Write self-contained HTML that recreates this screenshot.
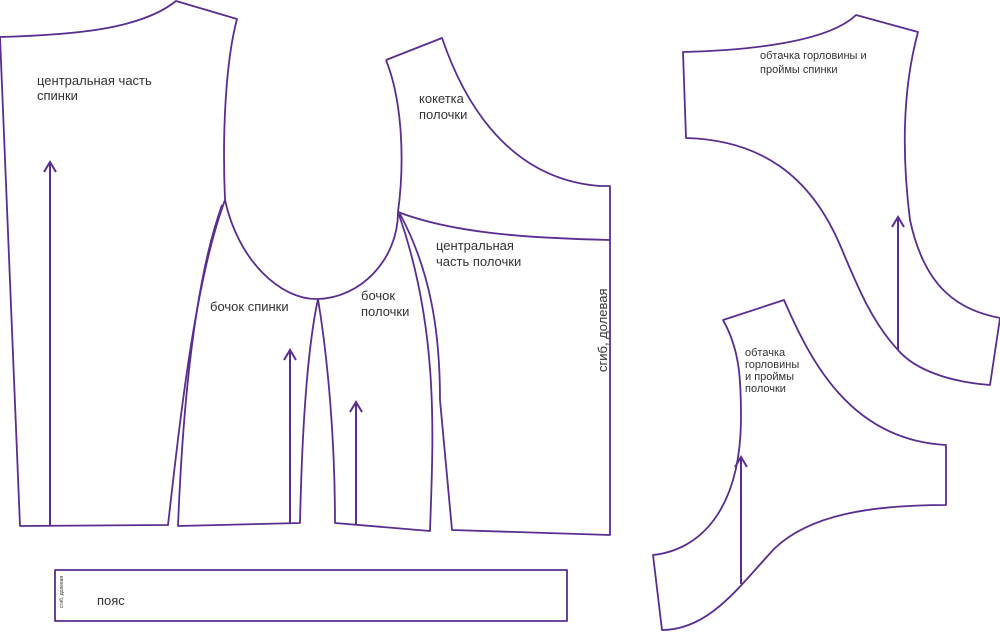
<!DOCTYPE html>
<html><head><meta charset="utf-8"><style>
html,body{margin:0;padding:0;background:#fff}
svg{display:block}
text{font-family:"Liberation Sans",sans-serif;fill:#333}
</style></head><body>
<svg width="1000" height="632" viewBox="0 0 1000 632" xmlns="http://www.w3.org/2000/svg">
<g fill="none" stroke="#5a2d91" stroke-width="1.8" stroke-linejoin="round">
<path d="M0,37 C70,35 140,30 176,1 L237,19 C226,60 222,130 225,200 C195,280 180,420 168,525 L20,526 L0,37 Z"/>
<path d="M225,200 C238,260 280,300 318,299 C360,298 398,260 398,212 C405,160 402,100 386,60"/>
<path d="M222,205 C195,280 183,400 178,526 L300,523 C302,430 307,350 318,299"/>
<path d="M318,299 C328,360 335,440 335,523 L430,531 C433,440 440,330 398,212"/>
<path d="M400,214 C430,270 440,330 440,400 L452,530 L610,535 L610,240 C520,238 450,232 398,212"/>
<path d="M386,60 L442,38 C470,120 520,180 600,186 L610,186 L610,240"/>
<rect x="55" y="570" width="512" height="51"/>
<path d="M683,52 C760,50 830,40 856,15 L918,32 C905,80 900,140 910,220 C925,290 960,310 1000,318 L990,385 C950,382 915,370 898,350 C870,320 855,280 840,245 C810,175 760,140 686,138 Z"/>
<path d="M723,320 L784,300 C810,360 850,440 946,445 L946,505 C870,505 810,515 775,548 C740,585 710,630 662,630 L653,555 C700,550 740,510 741,420 C741,380 740,350 723,320 Z"/>
</g>
<g stroke="#5a2d91" stroke-width="2" fill="none">
<line x1="50" y1="162" x2="50" y2="525"/><path d="M44,172 L50,162 L56,172"/>
<line x1="290" y1="350" x2="290" y2="523"/><path d="M284,360 L290,350 L296,360"/>
<line x1="356" y1="402" x2="356" y2="525"/><path d="M350,412 L356,402 L362,412"/>
<line x1="898" y1="217" x2="898" y2="350"/><path d="M892,227 L898,217 L904,227"/>
<line x1="741" y1="457" x2="741" y2="584"/><path d="M735,467 L741,457 L747,467"/>
</g>
<g font-size="13">
<text x="37" y="85">центральная часть</text>
<text x="37" y="100">спинки</text>
<text x="419" y="103">кокетка</text>
<text x="419" y="119">полочки</text>
<text x="436" y="250">центральная</text>
<text x="436" y="266">часть полочки</text>
<text x="210" y="311">бочок спинки</text>
<text x="361" y="300">бочок</text>
<text x="361" y="316">полочки</text>
<text x="97" y="605">пояс</text>
<text transform="translate(607,372) rotate(-90)">сгиб, долевая</text>
</g>
<g font-size="11">
<text x="760" y="59">обтачка горловины и</text>
<text x="760" y="73">проймы спинки</text>
<text x="745" y="356">обтачка</text>
<text x="745" y="368">горловины</text>
<text x="745" y="380">и проймы</text>
<text x="745" y="392">полочки</text>
</g>
<text font-size="5" transform="translate(63,608) rotate(-90)">сгиб, долевая</text>
</svg>
</body></html>
